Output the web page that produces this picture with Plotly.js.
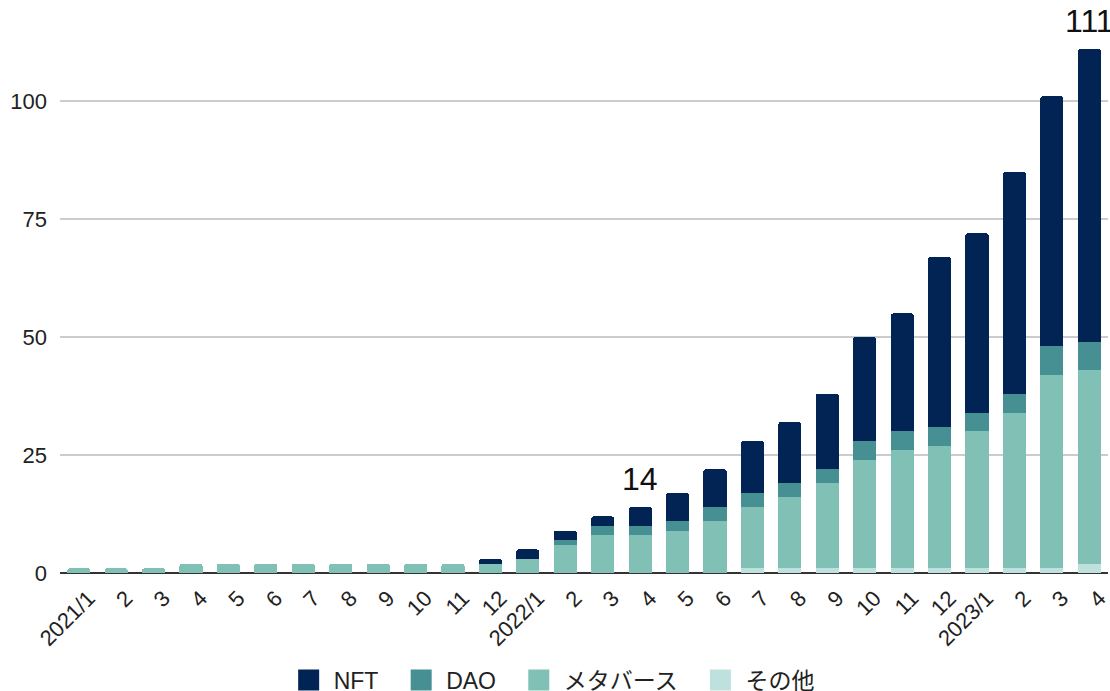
<!DOCTYPE html>
<html>
<head>
<meta charset="utf-8">
<script src="https://cdn.plot.ly/plotly-3.0.1.min.js"></script>
<style>html,body{margin:0;padding:0;background:#fff;}#chart{width:1110px;height:691px;}</style>
</head>
<body>
<div id="chart"></div>
<script>
// Category keys (unique) and displayed tick labels
const categories = ["2021-01","2021-02","2021-03","2021-04","2021-05","2021-06","2021-07","2021-08","2021-09","2021-10","2021-11","2021-12",
  "2022-01","2022-02","2022-03","2022-04","2022-05","2022-06","2022-07","2022-08","2022-09","2022-10","2022-11","2022-12",
  "2023-01","2023-02","2023-03","2023-04"];
const tickLabels = ["2021/1","2","3","4","5","6","7","8","9","10","11","12",
  "2022/1","2","3","4","5","6","7","8","9","10","11","12",
  "2023/1","2","3","4"];

// Series values
const other    = [0,0,0,0,0,0,0,0,0,0,0,0, 0,0,0,0,0,0,1,1,1,1,1,1, 1,1,1,2];
const metaverse= [1,1,1,2,2,2,2,2,2,2,2,2, 3,6,8,8,9,11,13,15,18,23,25,26, 29,33,41,41];
const dao      = [0,0,0,0,0,0,0,0,0,0,0,0, 0,1,2,2,2,3,3,3,3,4,4,4, 4,4,6,6];
const nft      = [0,0,0,0,0,0,0,0,0,0,0,1, 2,2,2,4,6,8,11,13,16,22,25,36, 38,47,53,62];

const seriesNames = ["その他","メタバース","DAO","NFT"];
const seriesColors = ["#bfe1dd","#80c0b5","#468f92","#012454"];
const seriesValues = [other, metaverse, dao, nft];

// Labelled totals
const labelledCats = ["2022-04","2023-04"];

const totals = categories.map((c,i)=>other[i]+metaverse[i]+dao[i]+nft[i]);

const FONT = '"Liberation Sans", Arial, "Noto Sans CJK JP", sans-serif';
const PAD = '\u00A0\u00A0';

const traces = [];
seriesValues.forEach((vals, k) => {
  traces.push({
    type: 'bar',
    x: categories,
    y: vals,
    name: seriesNames[k],
    marker: {color: seriesColors[k], line: {width: 0}},
    showlegend: false,
    hoverinfo: 'skip'
  });
});
// legend entries (square markers)
seriesValues.forEach((vals, k) => {
  traces.push({
    type: 'scatter',
    mode: 'markers',
    x: [null],
    y: [null],
    name: seriesNames[k] + (k > 0 ? PAD : ''),
    marker: {color: seriesColors[k], symbol: 'square', size: 16,
             line: {color: seriesColors[k], width: 5}},
    showlegend: true,
    hoverinfo: 'skip'
  });
});

const annotations = labelledCats.map(c => {
  const i = categories.indexOf(c);
  return {
    x: c, y: totals[i], xref: 'x', yref: 'y',
    text: String(totals[i]), showarrow: false,
    yanchor: 'bottom', yshift: 8,
    font: {family: FONT, size: 32, color: '#111111'}
  };
});

const layout = {
  width: 1110, height: 691,
  margin: {l: 60, r: 2, t: 49, b: 118},
  paper_bgcolor: '#ffffff', plot_bgcolor: '#ffffff',
  font: {family: FONT, size: 22, color: '#222222'},
  barmode: 'stack',
  bargap: 0.38,
  barcornerradius: 3,
  showlegend: true,
  legend: {
    orientation: 'h',
    xref: 'container', yref: 'container',
    x: 0.497, xanchor: 'center',
    y: 0.016, yanchor: 'middle',
    traceorder: 'reversed',
    itemsizing: 'trace',
    itemwidth: 40,
    font: {family: FONT, size: 23, color: '#222222'}
  },
  xaxis: {
    type: 'category',
    automargin: false,
    range: [-0.5, 27.5],
    tickmode: 'array',
    tickvals: categories,
    ticktext: tickLabels,
    tickangle: -45,
    showgrid: false,
    showline: false,
    zeroline: false,
    ticks: '',
    ticklabelshift: 10,
    ticklabelstandoff: 7,
    tickfont: {family: FONT, size: 22, color: '#222222'}
  },
  yaxis: {
    automargin: false,
    range: [0, 111],
    tickmode: 'array',
    tickvals: [0,25,50,75,100],
    showgrid: true,
    gridcolor: '#cccccc',
    gridwidth: 1.2,
    zeroline: true,
    zerolinecolor: '#333333',
    zerolinewidth: 1.5,
    showline: false,
    ticks: '',
    ticklabelstandoff: 12,
    tickfont: {family: FONT, size: 22, color: '#222222'}
  },
  annotations: annotations
};

Plotly.newPlot('chart', traces, layout, {displayModeBar: false, staticPlot: true});
</script>
</body>
</html>
